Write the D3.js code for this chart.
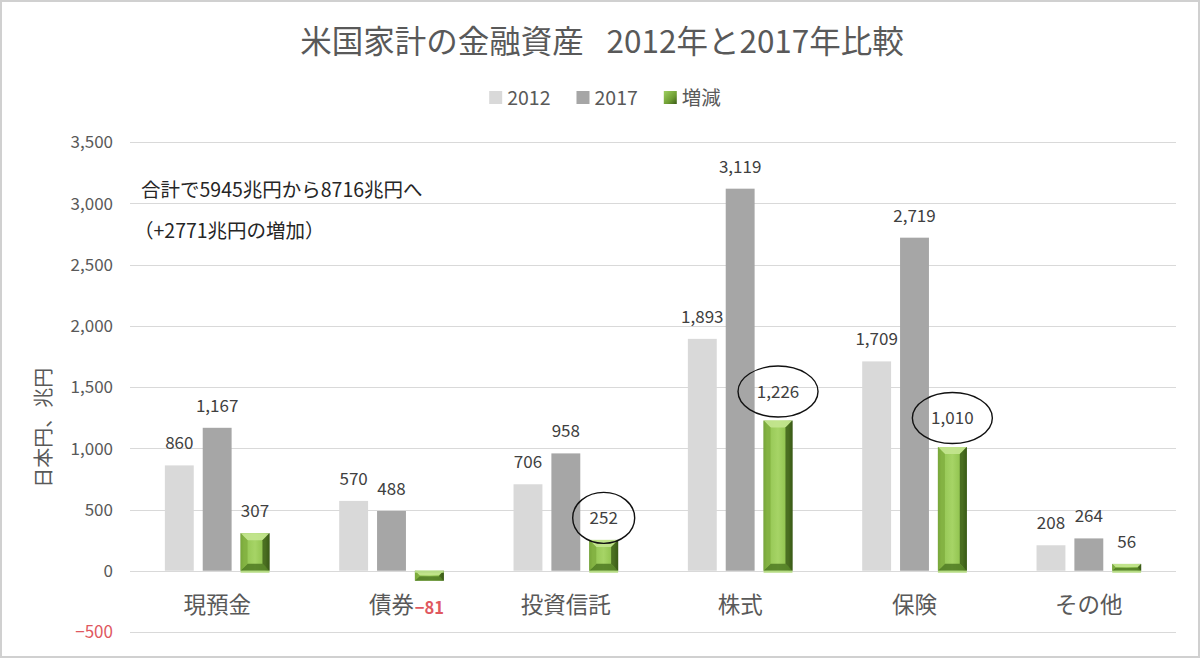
<!DOCTYPE html>
<html><head><meta charset="utf-8">
<script src="https://cdn.jsdelivr.net/npm/d3@7"></script>
<style>
html,body{margin:0;padding:0;background:#fff;}
svg{display:block;font-family:"Noto Sans CJK JP","Noto Sans",sans-serif;}
</style></head>
<body><svg id="chart" width="1200" height="658"></svg>
<script>
const categories = ["現預金","債券","投資信託","株式","保険","その他"];
const seriesNames = ["2012","2017","増減"];
const values2012 = [860, 570, 706, 1893, 1709, 208];
const values2017 = [1167, 488, 958, 3119, 2719, 264];
const valuesDiff = [307, -81, 252, 1226, 1010, 56];
const yTicks = [-500, 0, 500, 1000, 1500, 2000, 2500, 3000, 3500];
const highlighted = ["投資信託","株式","保険"];
const titleText = "米国家計の金融資産\u2002 2012年と2017年比較";
const noteLines = ["合計で5945兆円から8716兆円へ", "（+2771兆円の増加）"];
const axisTitle = "日本円、兆円";

const svg = d3.select("#chart");
const W = 1200, H = 658;
const plot = {left:130, right:1176, top:142, bottom:632};
const textGray = "#595959", labelGray = "#404040";
const colors = {"2012":"#d9d9d9","2017":"#a6a6a6"};

svg.append("rect").attr("x",1).attr("y",1).attr("width",W-2).attr("height",H-2)
  .attr("fill","#fff").attr("stroke","#d0d0d0").attr("stroke-width",2);

const defs = svg.append("defs");
const g1 = defs.append("linearGradient").attr("id","greenH").attr("x1","0").attr("x2","1").attr("y1","0").attr("y2","0");
[["0%","#5d8a2a"],["12%","#93c552"],["50%","#a6d466"],["85%","#8cbf4a"],["100%","#3a5a17"]]
  .forEach(([o,c])=>g1.append("stop").attr("offset",o).attr("stop-color",c));
const g2 = defs.append("linearGradient").attr("id","greenLeg").attr("x1","0").attr("x2","1").attr("y1","0").attr("y2","1");
[["0%","#9fd060"],["60%","#6f9e34"],["100%","#3a5a17"]]
  .forEach(([o,c])=>g2.append("stop").attr("offset",o).attr("stop-color",c));

const data = categories.map((c,i)=>({cat:c, "2012":values2012[i], "2017":values2017[i], "増減":valuesDiff[i]}));

const x0 = d3.scaleBand().domain(categories).range([plot.left, plot.right]).paddingInner(0.4).paddingOuter(0.2);
const x1 = d3.scaleBand().domain(seriesNames).range([0, x0.bandwidth()]).paddingInner(0.237);
const y = d3.scaleLinear().domain([-500, 3500]).range([plot.bottom, plot.top]);

// gridlines
const grid = svg.append("g").attr("class","grid");
grid.selectAll("line").data(yTicks).join("line")
  .attr("x1",plot.left).attr("x2",plot.right)
  .attr("y1",d=>Math.round(y(d))+0.5).attr("y2",d=>Math.round(y(d))+0.5)
  .attr("stroke","#d9d9d9").attr("stroke-width",1.2);

// y axis labels
const yAxis = d3.axisLeft(y).tickValues(yTicks).tickSize(0).tickPadding(0).tickFormat(d3.format(","));
const yg = svg.append("g").attr("transform",`translate(113,0)`).call(yAxis);
yg.select(".domain").remove();
yg.selectAll("text").attr("font-size",17).attr("fill",d=>d<0?"#e0585f":textGray)
  .attr("font-family",'"Noto Sans CJK JP","Noto Sans",sans-serif').attr("dy","0.35em");

// axis title
svg.append("text").attr("transform",`translate(51,${(y(1500)+y(1000))/2+10}) rotate(-90)`)
  .attr("text-anchor","middle").attr("font-size",20).attr("fill",textGray).text(axisTitle);

// bars
const groups = svg.append("g").selectAll("g").data(data).join("g")
  .attr("transform",d=>`translate(${x0(d.cat)},0)`);

["2012","2017"].forEach(s=>{
  groups.append("rect")
    .attr("x",x1(s)).attr("width",x1.bandwidth())
    .attr("y",d=>y(Math.max(0,d[s]))).attr("height",d=>Math.abs(y(d[s])-y(0)))
    .attr("fill",colors[s]);
});

// beveled green bars
groups.each(function(d){
  const g = d3.select(this);
  const v = d["増減"];
  const bx = x1("増減"), bw = x1.bandwidth();
  const top = y(Math.max(0,v)), bot = y(Math.min(0,v));
  const h = bot - top;
  g.append("rect").attr("x",bx).attr("y",top).attr("width",bw).attr("height",h).attr("fill","url(#greenH)");
  const b = Math.min(7, h/2.2);
  g.append("polygon").attr("points",[[bx,top],[bx+bw,top],[bx+bw-b,top+b],[bx+b,top+b]].map(p=>p.join(",")).join(" "))
    .attr("fill","#c4e690").attr("opacity",0.9);
  g.append("polygon").attr("points",[[bx,bot],[bx+bw,bot],[bx+bw-b,bot-b],[bx+b,bot-b]].map(p=>p.join(",")).join(" "))
    .attr("fill","#4f7a22").attr("opacity",0.85);
  g.append("polygon").attr("points",[[bx+bw,top],[bx+bw,bot],[bx+bw-b,bot-b],[bx+bw-b,top+b]].map(p=>p.join(",")).join(" "))
    .attr("fill","#3a5a17").attr("opacity",0.8);
  g.append("polygon").attr("points",[[bx,top],[bx,bot],[bx+b,bot-b],[bx+b,top+b]].map(p=>p.join(",")).join(" "))
    .attr("fill","#7fae3f").attr("opacity",0.8);
  g.append("line").attr("x1",bx).attr("x2",bx+bw).attr("y1",y(0)+1).attr("y2",y(0)+1)
    .attr("stroke","#b6dc84").attr("stroke-width",2);
});

// label offset: circled labels on tall bars sit a little higher
const labelOffset = (d,s) => (s==="増減" && highlighted.includes(d.cat) && d[s]>=1000) ? 23 : 16;

// data labels
seriesNames.forEach(s=>{
  groups.append("text")
    .attr("x",x1(s)+x1.bandwidth()/2)
    .attr("y",d=>d[s]>=0 ? y(d[s])-labelOffset(d,s) : y(d[s])+33)
    .attr("text-anchor","middle").attr("font-size",d=>d[s]>=0?17:16.5)
    .attr("font-weight",d=>d[s]>=0?"normal":"bold")
    .attr("fill",d=>d[s]>=0?labelGray:"#e0585f")
    .text(d=>d3.format(",")(d[s]));
});

// ellipses around highlighted diff labels
groups.filter(d=>highlighted.includes(d.cat)).each(function(d){
  const g = d3.select(this);
  const v = d["増減"];
  const cx = x1("増減")+x1.bandwidth()/2;
  const cy = y(v)-labelOffset(d,"増減")-6;
  const rx = v>=1000 ? 40 : 31;
  g.append("ellipse").attr("cx",cx).attr("cy",cy).attr("rx",rx).attr("ry",25.5)
    .attr("fill","none").attr("stroke","#111").attr("stroke-width",1.4);
});

// category labels
svg.append("g").selectAll("text").data(categories).join("text")
  .attr("x",d=>x0(d)+x0.bandwidth()/2).attr("y",613)
  .attr("text-anchor","middle").attr("font-size",22.5).attr("fill",textGray).text(d=>d);

// title
svg.append("text").attr("x",602).attr("y",53).attr("text-anchor","middle")
  .attr("font-size",31.5).attr("fill",textGray).text(titleText);

// legend
const leg = svg.append("g");
let lx = 0;
seriesNames.forEach(s=>{
  const it = leg.append("g").attr("transform",`translate(${lx},0)`);
  it.append("rect").attr("x",0).attr("y",-7).attr("width",13).attr("height",13)
    .attr("fill", s==="増減" ? "url(#greenLeg)" : colors[s]);
  const t = it.append("text").attr("x",18).attr("y",0).attr("dy","0.35em").attr("font-size",19.5).attr("fill",textGray).text(s);
  lx += 18 + t.node().getComputedTextLength() + 26;
});
const legW = lx - 26;
leg.attr("transform",`translate(${605 - legW/2},98)`);

// annotation
svg.append("g").selectAll("text").data(noteLines).join("text")
  .attr("x",(d,i)=> i===0 ? 141 : 134).attr("y",(d,i)=>197+i*41)
  .attr("font-size",19.5).attr("fill","#262626").text(d=>d);
</script></body></html>
